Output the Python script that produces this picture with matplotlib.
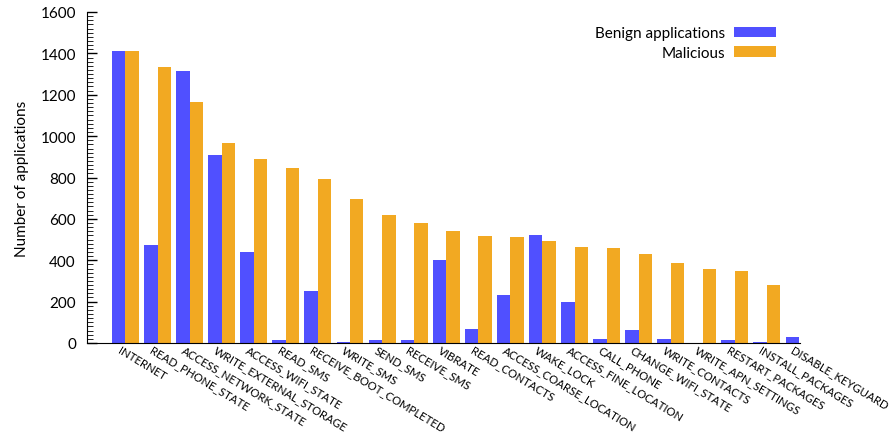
import matplotlib
matplotlib.use("Agg")
import matplotlib.pyplot as plt
import matplotlib.transforms as mtransforms
import numpy as np
from matplotlib.ticker import MultipleLocator

plt.rcParams['font.family'] = ['Lato', 'DejaVu Sans']

permissions = [
    "INTERNET", "READ_PHONE_STATE", "ACCESS_NETWORK_STATE", "WRITE_EXTERNAL_STORAGE",
    "ACCESS_WIFI_STATE", "READ_SMS", "RECEIVE_BOOT_COMPLETED", "WRITE_SMS",
    "SEND_SMS", "RECEIVE_SMS", "VIBRATE", "READ_CONTACTS",
    "ACCESS_COARSE_LOCATION", "WAKE_LOCK", "ACCESS_FINE_LOCATION", "CALL_PHONE",
    "CHANGE_WIFI_STATE", "WRITE_CONTACTS", "WRITE_APN_SETTINGS", "RESTART_PACKAGES",
    "INSTALL_PACKAGES", "DISABLE_KEYGUARD",
]
benign = [1412, 472, 1315, 908, 438, 16, 249, 6, 16, 16, 399, 69,
          234, 520, 200, 21, 64, 21, 2, 16, 3, 31]
malicious = [1412, 1335, 1165, 966, 889, 845, 792, 695, 617, 578, 540, 515,
             511, 491, 462, 457, 428, 385, 360, 346, 278, 0]

fig = plt.figure(figsize=(8.95, 4.35), dpi=100)
ax = fig.add_axes([87 / 895, 1 - 344 / 435, (800 - 87) / 895, (344 - 13) / 435])

x = np.arange(len(permissions))
w = 0.42
ax.bar(x - w / 2, benign, w, color="#5050ff", label="Benign applications")
ax.bar(x + w / 2, malicious, w, color="#f2a922", label="Malicious")

ax.set_xlim(-1.2, 21.03)
ax.set_ylim(0, 1600)
ax.yaxis.set_major_locator(MultipleLocator(200))
ax.yaxis.set_minor_locator(MultipleLocator(20))
ax.tick_params(axis="y", which="major", direction="in", length=7, width=1,
               labelsize=11, pad=8)
ax.tick_params(axis="y", which="minor", direction="in", length=4, width=0.6)
ax.tick_params(axis="x", length=0, pad=4)
ax.spines["top"].set_visible(False)
ax.spines["right"].set_visible(False)
ax.set_xticks(x)
ax.set_xticklabels(permissions, rotation=-31, ha="left", va="center",
                   rotation_mode="anchor", fontsize=8.2)
# labels start a little left of the group centre, as in the original
shift = mtransforms.ScaledTranslation(-7 / 100, 0, fig.dpi_scale_trans)
for lbl in ax.get_xticklabels():
    lbl.set_transform(lbl.get_transform() + shift)
ax.set_ylabel("Number of applications", fontsize=11, labelpad=8)

ax.legend(loc="upper right", bbox_to_anchor=(0.975, 0.975), frameon=False,
          markerfirst=False, fontsize=11, handlelength=2.75, handleheight=0.7,
          labelspacing=0.35, handletextpad=0.6, borderaxespad=0)

fig.savefig("out.png", dpi=100)
